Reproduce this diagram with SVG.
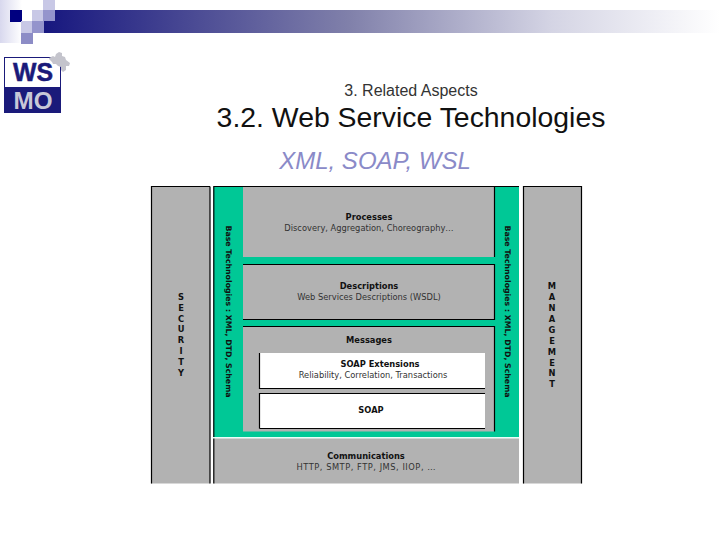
<svg xmlns="http://www.w3.org/2000/svg" width="720" height="540" viewBox="0 0 720 540">
<style>
text{font-family:"Liberation Sans",Arial,sans-serif;text-anchor:middle}
.s{font-family:"DejaVu Sans",sans-serif;font-size:8.3px;fill:#333}
.b{font-family:"DejaVu Sans",sans-serif;font-size:8.3px;font-weight:bold;fill:#111}
.v{font-size:7.8px}
.g{fill:#b2b2b2}
.w{fill:#fff}
.l{stroke:#000;stroke-width:1.2;fill:none}
</style>
<defs>
<linearGradient id="bar" x1="0" x2="1" y1="0" y2="0"><stop offset="0" stop-color="#17177f"/><stop offset="0.45" stop-color="#8080aa"/><stop offset="0.75" stop-color="#d4d4e4"/><stop offset="1" stop-color="#fff"/></linearGradient>
<linearGradient id="fade" x1="0" x2="1" y1="0" y2="0"><stop offset="0" stop-color="#d8d8ee"/><stop offset="1" stop-color="#fff"/></linearGradient>
</defs>
<g id="banner">
<rect x="0" y="0" width="22" height="43" fill="url(#fade)"/>
<rect x="44" y="10" width="676" height="23" fill="url(#bar)"/>
<rect x="10" y="10" width="12" height="12" fill="#000080"/>
<rect x="32" y="10" width="11" height="11" fill="#c8c8e6"/>
<rect x="43" y="0" width="12" height="10" fill="#c8c8e6"/>
<rect x="43" y="10" width="12" height="11" fill="#9494cc"/>
<rect x="21" y="21" width="11" height="12" fill="#c8c8e6"/>
<rect x="32" y="21" width="12" height="12" fill="#9494cc"/>
<rect x="21" y="33" width="12" height="11" fill="#8c8cc6"/>
</g>
<g id="logo">
<rect x="4.500" y="57.500" width="56" height="55" fill="#fff" stroke="#1a1a7a"/>
<rect x="4" y="87" width="57" height="26" fill="#1a1a7a"/>
<text x="33" y="81" font-size="25" font-weight="bold" fill="#1a1a7a" stroke="#1a1a7a" stroke-width="0.5" textLength="40" lengthAdjust="spacingAndGlyphs">WS</text>
<text x="33" y="108.500" font-size="24" font-weight="bold" fill="#c8c8d8" textLength="39" lengthAdjust="spacingAndGlyphs">MO</text>
<path d="M49 58l4-2 2 1 1-3 3-2 3 1 0 3 3 1 1 3 4 3-1 3-3 0 0 4-3 2-2-2 0-3-3-1-2-2-3 0-1-2-3-3z" fill="#c4c4cc"/>
</g>
<g id="titles">
<text x="411" y="95.500" font-size="16" fill="#333">3. Related Aspects</text>
<text x="411" y="127" font-size="28.400" fill="#111">3.2. Web Service Technologies</text>
<text x="375" y="169" font-size="24" font-style="italic" fill="#8a8ac8">XML, SOAP, WSL</text>
</g>
<g id="security">
<rect class="g" x="151" y="186" width="59" height="297.500"/>
<path class="l" d="M151.500 483.500V186.500H210M210 186.500V483.500"/>
<text class="b" x="181" y="300">S</text>
<text class="b" x="181" y="311">E</text>
<text class="b" x="181" y="322">C</text>
<text class="b" x="181" y="332">U</text>
<text class="b" x="181" y="343">R</text>
<text class="b" x="181" y="354">I</text>
<text class="b" x="181" y="365">T</text>
<text class="b" x="181" y="376">Y</text>
</g>
<g id="base-frame">
<rect x="213.500" y="186.500" width="305.500" height="250.500" fill="#00c896"/>
<path class="l" d="M213.800 437V186.500H519"/>
<rect x="213" y="437" width="306" height="1.500" fill="#e8fff8"/>
<text class="b v" transform="translate(226 311.500) rotate(90)">Base Technologies : XML, DTD, Schema</text>
<text class="b v" transform="translate(505 311.500) rotate(90)">Base Technologies : XML, DTD, Schema</text>
</g>
<g id="processes">
<rect class="g" x="243" y="187" width="251" height="70"/>
<path class="l" d="M494.500 187V257"/>
<text class="b" x="369" y="220">Processes</text>
<text class="s" x="369" y="231">Discovery, Aggregation, Choreography…</text>
</g>
<g id="descriptions">
<rect class="g" x="243" y="264.500" width="251" height="55"/>
<path class="l" d="M243 264.500H494.500V319.500H243"/>
<text class="b" x="369" y="289">Descriptions</text>
<text class="s" x="369" y="300">Web Services Descriptions (WSDL)</text>
</g>
<g id="messages">
<rect class="g" x="243" y="326.500" width="251" height="105"/>
<path class="l" d="M243 326.500H494.500V431.500"/>
<text class="b" x="369" y="342.500">Messages</text>
</g>
<g id="soap-extensions">
<rect class="w" x="259.500" y="353" width="225.500" height="35.500"/>
<path class="l" d="M259.500 353V388.500H485"/>
<text class="b" x="380" y="367">SOAP Extensions</text>
<text class="s" x="373" y="377.500">Reliability, Correlation, Transactions</text>
</g>
<g id="soap">
<rect class="w" x="259.500" y="393.500" width="225.500" height="35"/>
<path class="l" d="M259.500 428.500V393.500H485M259.500 428.500H485"/>
<text class="b" x="371" y="412.500">SOAP</text>
</g>
<g id="communications">
<rect class="g" x="213.500" y="438.500" width="305.500" height="45"/>
<path class="l" d="M213.800 438.500V483.500"/>
<text class="b" x="366" y="459">Communications</text>
<text class="s" x="366" y="470" textLength="139">HTTP, SMTP, FTP, JMS, IIOP, …</text>
</g>
<g id="management">
<rect class="g" x="523" y="186" width="58.500" height="297.500"/>
<path class="l" d="M523.500 483.500V186.500H581.500V483.500"/>
<text class="b" x="552" y="289">M</text>
<text class="b" x="552" y="300">A</text>
<text class="b" x="552" y="311">N</text>
<text class="b" x="552" y="322">A</text>
<text class="b" x="552" y="333">G</text>
<text class="b" x="552" y="344">E</text>
<text class="b" x="552" y="355">M</text>
<text class="b" x="552" y="366">E</text>
<text class="b" x="552" y="376">N</text>
<text class="b" x="552" y="387">T</text>
</g>
</svg>
